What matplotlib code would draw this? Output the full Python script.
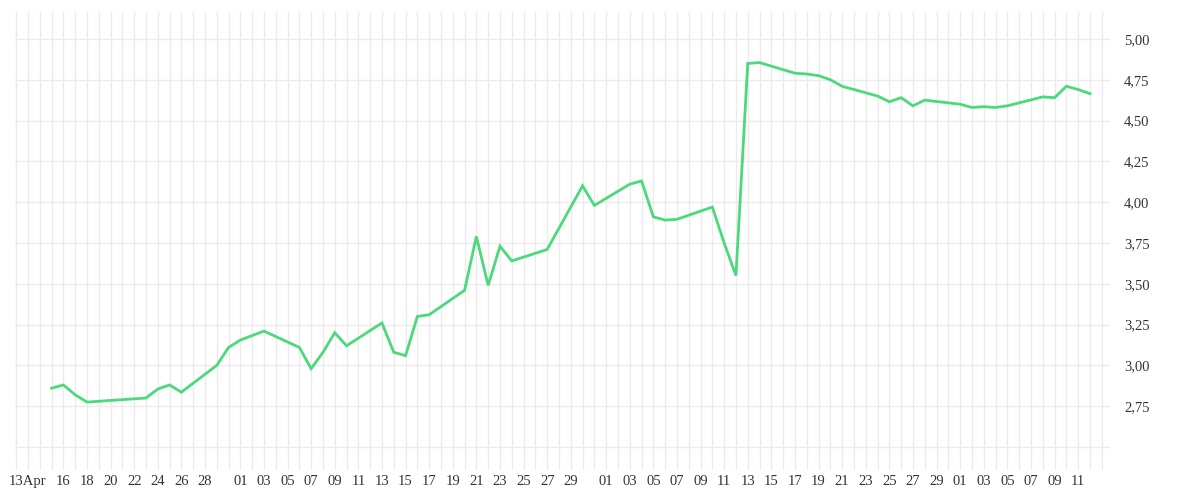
import matplotlib
matplotlib.use("Agg")
import matplotlib.pyplot as plt
import matplotlib.dates as mdates
import numpy as np
from matplotlib.ticker import FixedLocator, FuncFormatter

dates = ["2015-04-15","2015-04-16","2015-04-17","2015-04-18","2015-04-23","2015-04-24","2015-04-25","2015-04-26",
         "2015-04-29","2015-04-30","2015-05-01","2015-05-03","2015-05-06","2015-05-07","2015-05-08","2015-05-09",
         "2015-05-10","2015-05-13","2015-05-14","2015-05-15","2015-05-16","2015-05-17","2015-05-20","2015-05-21",
         "2015-05-22","2015-05-23","2015-05-24","2015-05-27","2015-05-30","2015-05-31","2015-06-03","2015-06-04",
         "2015-06-05","2015-06-06","2015-06-07","2015-06-10","2015-06-11","2015-06-12","2015-06-13","2015-06-14",
         "2015-06-17","2015-06-18","2015-06-19","2015-06-20","2015-06-21","2015-06-24","2015-06-25","2015-06-26",
         "2015-06-27","2015-06-28","2015-07-01","2015-07-02","2015-07-03","2015-07-04","2015-07-05","2015-07-08",
         "2015-07-09","2015-07-10","2015-07-11","2015-07-12"]
values = [2.86,2.88,2.82,2.775,2.80,2.855,2.88,2.836,
          3.00,3.11,3.155,3.21,3.11,2.98,3.08,3.20,
          3.12,3.26,3.08,3.06,3.30,3.31,3.46,3.79,
          3.49,3.73,3.64,3.71,4.10,3.98,4.11,4.13,
          3.91,3.89,3.895,3.97,3.75,3.55,4.85,4.855,
          4.79,4.785,4.775,4.75,4.71,4.65,4.615,4.64,
          4.59,4.625,4.60,4.58,4.585,4.58,4.59,4.645,
          4.64,4.71,4.69,4.665]
tick_dates = (["2015-04-13"] + [f"2015-04-{d:02d}" for d in range(16, 29, 2)]
              + [f"2015-05-{d:02d}" for d in range(1, 30, 2)]
              + [f"2015-06-{d:02d}" for d in range(1, 30, 2)]
              + [f"2015-07-{d:02d}" for d in range(1, 12, 2)])
tick_labels = ["13Apr"] + [t[-2:] for t in tick_dates[1:]]
y_ticks = [2.75, 3.00, 3.25, 3.50, 3.75, 4.00, 4.25, 4.50, 4.75, 5.00]

x = mdates.datestr2num(dates)
tx = mdates.datestr2num(tick_dates)

fig = plt.figure(figsize=(12, 5), dpi=100)
ax = fig.add_axes([0.0125, 0.06, 0.9125, 0.916])
ax.plot(x, values, color="#4cd97b", lw=2, solid_joinstyle="miter")

x0 = mdates.datestr2num("2015-04-11") + 0.9
x1 = mdates.datestr2num("2015-07-13") + 0.7
ax.set_xlim(x0, x1)
ax.set_ylim(2.359, 5.165)

days = np.arange(np.ceil(x0), x1)
ax.xaxis.set_minor_locator(FixedLocator(days))
ax.set_xticks(tx)
ax.set_xticklabels(tick_labels)
ax.set_yticks(y_ticks)
ax.yaxis.set_minor_locator(FixedLocator([2.5]))
ax.yaxis.set_major_formatter(FuncFormatter(lambda v, p: f"{v:.2f}".replace(".", ",")))
ax.yaxis.tick_right()
ax.grid(False)
for d in days:
    ax.axvline(d, color="#ebebeb", lw=1, zorder=0)
for yv in [2.5] + y_ticks:
    ax.axhline(yv, color="#ebebeb", lw=1, zorder=0)
ax.tick_params(axis="both", length=0, labelsize=10.5, colors="#333333", which="both")
ax.tick_params(axis="y", pad=10)
for lab in ax.get_xticklabels() + ax.get_yticklabels():
    lab.set_fontfamily("Liberation Serif")
for s in ax.spines.values():
    s.set_visible(False)
fig.savefig("out.png", dpi=100)
